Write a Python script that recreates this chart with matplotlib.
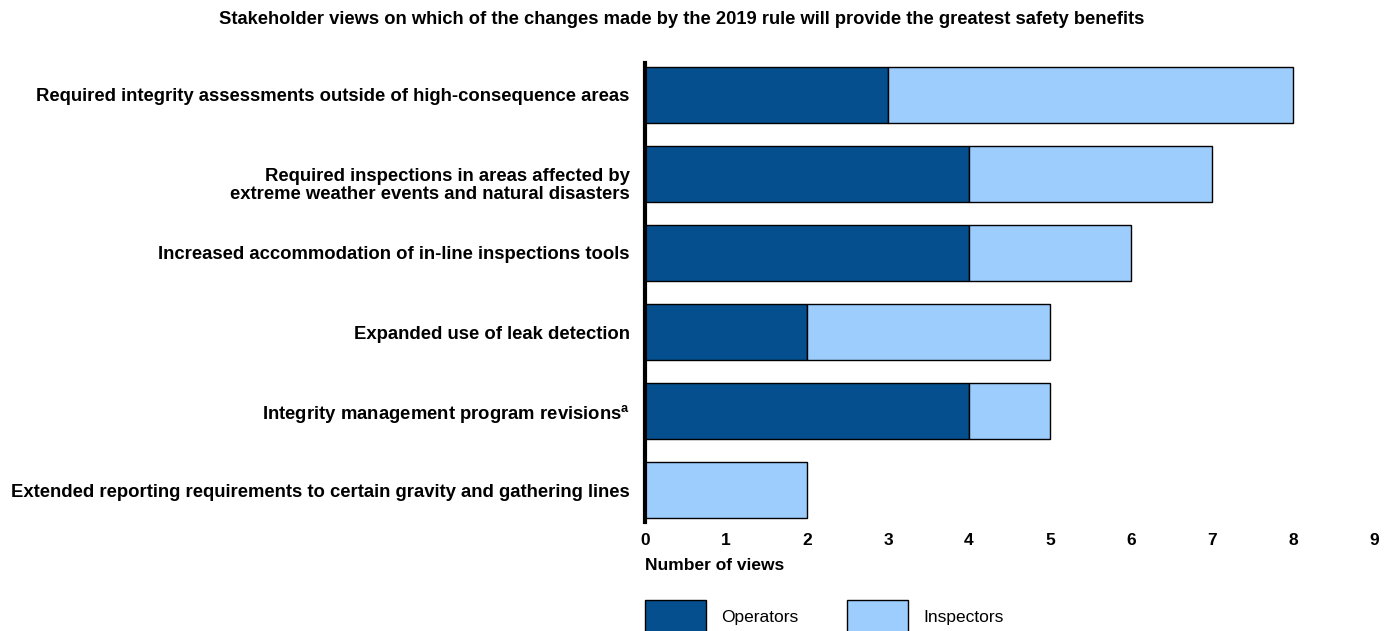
import numpy as np
import matplotlib.pyplot as plt
from matplotlib import font_manager
from matplotlib.transforms import ScaledTranslation

names = {f.name for f in font_manager.fontManager.ttflist}
narrow = "Liberation Sans Narrow" if "Liberation Sans Narrow" in names else "Liberation Sans"

categories = [
    "Required integrity assessments outside of high-consequence areas",
    "Required inspections in areas affected by\nextreme weather events and natural disasters",
    "Increased accommodation of in-line inspections tools",
    "Expanded use of leak detection",
    "Integrity management program revisions$^{\\mathbf{a}}$",
    "Extended reporting requirements to certain gravity and gathering lines",
]
operators = [3, 4, 4, 2, 4, 0]
inspectors = [5, 3, 2, 3, 1, 2]
xticks = list(range(0, 10))

c_op = "#054f8f"
c_in = "#9ccdfc"

plt.rcParams["font.family"] = ["Liberation Sans", "DejaVu Sans"]
plt.rcParams["mathtext.fontset"] = "custom"
plt.rcParams["mathtext.bf"] = "Liberation Sans:bold"

fig = plt.figure(figsize=(13.92, 6.31), dpi=100)
ax = fig.add_axes([645/1392, 1 - 522/631, (1374-645)/1392, (522-63)/631])

y = np.arange(len(categories))
ax.barh(y, operators, height=0.71, color=c_op, edgecolor="black", linewidth=1, label="Operators")
ax.barh(y, inspectors, left=operators, height=0.71, color=c_in, edgecolor="black", linewidth=1, label="Inspectors")

ax.set_ylim(5.4, -0.4)
ax.set_xlim(0, 9)
ax.set_yticks(y)
ax.set_yticklabels(categories, fontsize=13.3, fontweight="bold", linespacing=1.12)
ax.set_xticks(xticks)
ax.set_xticklabels([str(t) for t in xticks], fontsize=12.5, fontweight="bold", family=narrow)
ax.tick_params(axis="both", length=0)
ax.tick_params(axis="y", pad=11)
ax.tick_params(axis="x", pad=8)
for s in ["top", "right", "bottom"]:
    ax.spines[s].set_visible(False)
ax.spines["left"].set_linewidth(3)

# two-line label sits a little lower in the original
lab = ax.get_yticklabels()[1]
lab.set_transform(lab.get_transform() + ScaledTranslation(0, -0.09, fig.dpi_scale_trans))

fig.text(682/1392, 1 - 20/631, "Stakeholder views on which of the changes made by the 2019 rule will provide the greatest safety benefits",
         ha="center", va="center", fontsize=13.2, fontweight="bold")
fig.text(645/1392, 1 - 565/631, "Number of views", ha="left", va="center",
         fontsize=12.5, fontweight="bold", family=narrow)

leg = fig.legend(loc="upper left", bbox_to_anchor=(638/1392, 1 - 593/631), ncol=2, frameon=False,
                 prop={"family": narrow, "size": 12.5}, handlelength=3.5, handleheight=2.6,
                 handletextpad=0.9, columnspacing=2.8, borderaxespad=0)

fig.savefig("out.png", dpi=100)
